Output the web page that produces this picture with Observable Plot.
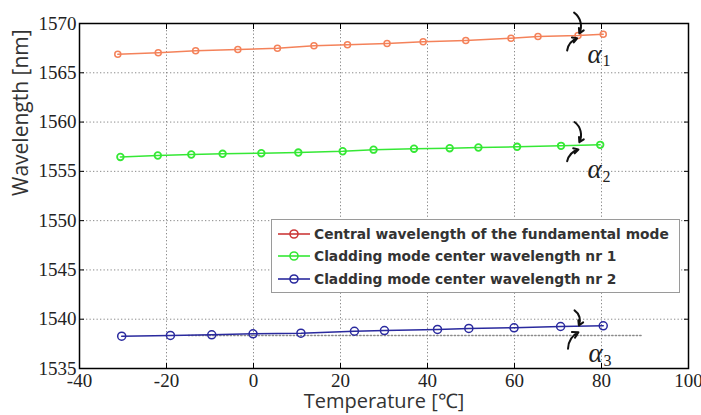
<!DOCTYPE html>
<html>
<head>
<meta charset="utf-8">
<script src="https://cdn.jsdelivr.net/npm/d3@7"></script>
<script src="https://cdn.jsdelivr.net/npm/@observablehq/plot@0.6"></script>
<style>
  html, body { margin: 0; padding: 0; background: #fff; }
  #wrap { position: relative; width: 701px; height: 415px; }
  #legend {
    position: absolute; left: 271px; top: 219px; width: 407px; height: 72px;
    border: 1px solid #9a9a9a; background: #fff; box-sizing: content-box;
    font-family: "DejaVu Sans", sans-serif; font-weight: bold; font-size: 13.8px; color: #333;
  }
  .row { position: absolute; left: 0; height: 20px; display: flex; align-items: center; white-space: nowrap; }
  .row svg { margin-left: 6px; margin-right: 4px; }
</style>
</head>
<body>
<div id="wrap"></div>
<script>
// ---- data ----
const seriesNames = [
  "Central wavelength of the fundamental mode",
  "Cladding mode center wavelength nr 1",
  "Cladding mode center wavelength nr 2"
];
const lineColors = ["#f4825a", "#35e835", "#2a2a9e"];
const legendColors = ["#cc3a3a", "#35e835", "#2a2a9e"];

const tempFund = [-31.2, -21.9, -13.3, -3.6, 5.5, 13.9, 21.6, 30.7, 39.0, 48.8, 59.2, 65.4, 74.6, 80.4];
const wlFund   = [1566.89, 1567.03, 1567.23, 1567.36, 1567.49, 1567.74, 1567.84, 1567.97, 1568.14, 1568.28, 1568.51, 1568.68, 1568.78, 1568.91];

const tempClad1 = [-30.6, -22.0, -14.3, -7.1, 1.8, 10.3, 20.5, 27.6, 36.9, 45.1, 51.7, 60.6, 70.7, 79.7];
const wlClad1   = [1556.46, 1556.61, 1556.71, 1556.78, 1556.84, 1556.91, 1557.04, 1557.20, 1557.30, 1557.35, 1557.42, 1557.49, 1557.59, 1557.69];

const tempClad2 = [-30.3, -19.1, -9.6, -0.1, 10.9, 23.2, 30.1, 42.3, 49.5, 59.9, 70.6, 80.4];
const wlClad2   = [1538.28, 1538.35, 1538.42, 1538.52, 1538.58, 1538.78, 1538.85, 1538.96, 1539.06, 1539.13, 1539.26, 1539.33];

const xTicks = [-40, -20, 0, 20, 40, 60, 80, 100];
const yTicks = [1535, 1540, 1545, 1550, 1555, 1560, 1565, 1570];

// reference (dotted) line under series 3
const refLine = [{t: -15, w: 1538.35}, {t: 89.5, w: 1538.35}];

// angle annotations
const alphaLabels = [
  {t: 76.8, w: 1566.9, label: "α", sub: "1"},
  {t: 76.8, w: 1555.2, label: "α", sub: "2"},
  {t: 77.0, w: 1536.5, label: "α", sub: "3"}
];
const arcUpper = [
  {t1: 73.7, w1: 1571.1, t2: 74.9, w2: 1569.0},
  {t1: 73.8, w1: 1560.0, t2: 74.9, w2: 1557.95},
  {t1: 73.8, w1: 1540.9, t2: 74.8, w2: 1539.36}
];
const arcLower = [
  {t1: 72.1, w1: 1567.26, t2: 74.4, w2: 1568.5},
  {t1: 72.1, w1: 1556.03, t2: 74.7, w2: 1557.22},
  {t1: 72.3, w1: 1537.0, t2: 74.7, w2: 1538.68}
];

// ---- build ----
const toRows = (ts, ws, s) => ts.map((t, i) => ({t, w: ws[i], s}));
const fund = toRows(tempFund, wlFund, 0);
const clad1 = toRows(tempClad1, wlClad1, 1);
const clad2 = toRows(tempClad2, wlClad2, 2);

const SERIF = "Liberation Serif";
const SANS = "Open Sans";

const chart = Plot.plot({
  width: 701,
  height: 415,
  marginLeft: 79,
  marginRight: 13,
  marginTop: 23,
  marginBottom: 47,
  style: {background: "#fff", overflow: "visible"},
  x: {domain: [-40, 100]},
  y: {domain: [1535, 1570]},
  marks: [
    Plot.gridX(xTicks, {stroke: "#8a8a8a", strokeOpacity: 1, strokeDasharray: "1.3,2.2", strokeWidth: 1}),
    Plot.gridY(yTicks, {stroke: "#8a8a8a", strokeOpacity: 1, strokeDasharray: "1.3,2.2", strokeWidth: 1}),
    Plot.line(refLine, {x: "t", y: "w", stroke: "#8a8a8a", strokeDasharray: "1.3,2.2"}),
    // inward tick marks
    Plot.axisX(xTicks, {anchor: "bottom", tickSize: -5, text: null, label: null, stroke: "#000"}),
    Plot.axisX(xTicks, {anchor: "top", tickSize: -5, text: null, label: null, stroke: "#000"}),
    Plot.axisY(yTicks, {anchor: "left", tickSize: -5, text: null, label: null, stroke: "#000"}),
    Plot.axisY(yTicks, {anchor: "right", tickSize: -5, text: null, label: null, stroke: "#000"}),
    // tick labels (serif)
    Plot.text(xTicks, {x: d => d, frameAnchor: "bottom", lineAnchor: "top", dy: 5, text: d => String(d), fontFamily: SERIF, fontSize: 19, fill: "#222"}),
    Plot.text(yTicks, {y: d => d, frameAnchor: "left", textAnchor: "end", dx: -3, text: d => String(d), fontFamily: SERIF, fontSize: 19, fill: "#222"}),
    // series
    Plot.line(fund, {x: "t", y: "w", stroke: lineColors[0], strokeWidth: 1.5}),
    Plot.dot(fund, {x: "t", y: "w", stroke: lineColors[0], r: 3, strokeWidth: 1.5, fill: "none"}),
    Plot.line(clad1, {x: "t", y: "w", stroke: lineColors[1], strokeWidth: 1.5}),
    Plot.dot(clad1, {x: "t", y: "w", stroke: lineColors[1], r: 3.3, strokeWidth: 1.8, fill: "none"}),
    Plot.line(clad2, {x: "t", y: "w", stroke: lineColors[2], strokeWidth: 1.5}),
    Plot.dot(clad2, {x: "t", y: "w", stroke: lineColors[2], r: 4, strokeWidth: 1.5, fill: "none"}),
    // angle annotations
    Plot.arrow(arcUpper, {x1: "t1", y1: "w1", x2: "t2", y2: "w2", bend: 40, stroke: "#111", strokeWidth: 2, headLength: 4}),
    Plot.arrow(arcLower, {x1: "t1", y1: "w1", x2: "t2", y2: "w2", bend: 30, stroke: "#111", strokeWidth: 2, headLength: 7}),
    Plot.text(alphaLabels, {x: "t", y: "w", text: "label", fontFamily: SERIF, fontSize: 27, fontStyle: "italic", fill: "#222", textAnchor: "start"}),
    Plot.text(alphaLabels, {x: "t", y: "w", text: "sub", dx: 15, dy: 7, fontFamily: SERIF, fontSize: 16, fill: "#222", textAnchor: "start"}),
    Plot.frame({stroke: "#000", strokeWidth: 1.5}),
    // axis titles
    Plot.text(["Wavelength [nm]"], {frameAnchor: "left", dx: -58, rotate: -90, fontFamily: SANS, fontSize: 21, fill: "#333"}),
    Plot.text(["Temperature [℃]"], {frameAnchor: "bottom", dy: 39, fontFamily: SANS, fontSize: 20, fill: "#333"})
  ]
});

const wrap = document.getElementById("wrap");
wrap.appendChild(chart);

// legend overlay
const legend = document.createElement("div");
legend.id = "legend";
seriesNames.forEach((name, i) => {
  const row = document.createElement("div");
  row.className = "row";
  row.style.top = (4 + i * 22.3) + "px";
  const c = legendColors[i];
  row.innerHTML = `<svg width="32" height="12"><line x1="0" y1="6" x2="32" y2="6" stroke="${c}" stroke-width="1.6"/><circle cx="16" cy="6" r="4" fill="none" stroke="${c}" stroke-width="1.6"/></svg><span>${name}</span>`;
  legend.appendChild(row);
});
wrap.appendChild(legend);
</script>
</body>
</html>
